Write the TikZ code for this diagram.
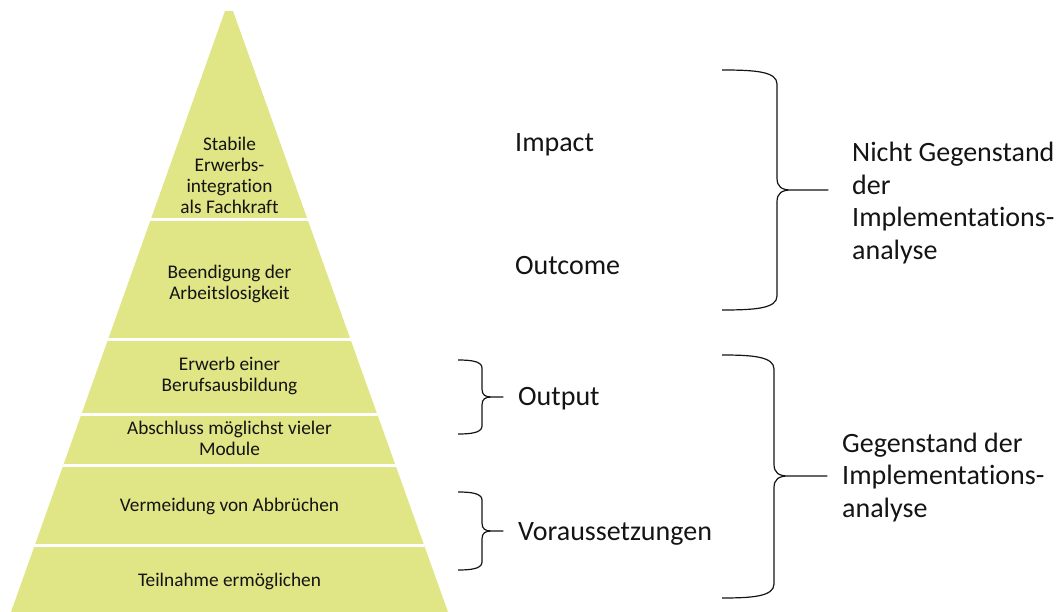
\documentclass[tikz,border=0pt]{standalone}
\usepackage{fontspec}
\setmainfont{Carlito}[Ligatures=CommonOff]
\definecolor{pyr}{RGB}{224,229,133}
\definecolor{ink}{RGB}{20,20,20}
\newcommand\curlybrace[8]{% #1 xe, #2 yt, #3 yb, #4 xv, #5 xt, #6 ym, #7 corner r, #8 tip r
  \draw[bracestyle] (#1,#2) .. controls ({#4-1.6*#7},#2) and (#4,{#2+0.1*#7}) .. (#4,{#2+#7})
    -- (#4,{#6-#8}) .. controls (#4,{#6-0.25*#8}) and ({#4+0.4*#8},#6) .. ({#4+1.2*#8},#6)
    -- (#5,#6) -- ({#4+1.2*#8},#6)
    .. controls ({#4+0.4*#8},#6) and (#4,{#6+0.25*#8}) .. (#4,{#6+#8})
    -- (#4,{#3-#7}) .. controls (#4,{#3-0.1*#7}) and ({#4-1.6*#7},#3) .. (#1,#3);}
\begin{document}
\begin{tikzpicture}[x=1pt,y=-1pt,
  bracestyle/.style={draw=ink,line width=1.2pt,line join=round},
  bandtext/.style={align=center,inner sep=0pt,text=ink,font=\fontsize{19.3}{21}\selectfont},
  lvl/.style={anchor=base west,inner sep=0pt,text=ink,font=\fontsize{28}{33}\selectfont},
  grp/.style={align=left,inner sep=0pt,text=ink,font=\fontsize{28}{32.7}\selectfont},
  divider/.style={draw=white,line width=2.4pt}]
\useasboundingbox (0,0) rectangle (1060,612);
% pyramid
\coordinate (apexL) at (225,11);
\coordinate (apexR) at (233,11);
\coordinate (baseR) at (448,612);
\coordinate (baseL) at (11,612);
\fill[pyr] (apexL) -- (apexR) -- (baseR) -- (baseL) -- cycle;
\begin{scope}
  \clip (apexL) -- (apexR) -- (baseR) -- (baseL) -- cycle;
  \foreach \yy in {219.5,339.5,414.5,465.5,545.5}
    \draw[divider] (0,\yy) -- (460,\yy);
\end{scope}
% band texts
\node[bandtext] (t1) at (229.5,175) {Stabile\\Erwerbs-\\integration\\als Fachkraft};
\node[bandtext] (t2) at (229.5,284) {Beendigung der\\Arbeitslosigkeit};
\node[bandtext] (t3) at (229.5,376) {Erwerb einer\\Berufsausbildung};
\node[bandtext] (t4) at (229.5,438.5) {Abschluss möglichst vieler\\Module};
\node[bandtext,anchor=base] (t5) at (229.5,511) {Vermeidung von Abbrüchen};
\node[bandtext,anchor=base] (t6) at (229.5,586) {Teilnahme ermöglichen};
% level labels
\node[lvl] (impact) at (515,152) {Impact};
\node[lvl] (outcome) at (515,275) {Outcome};
\node[lvl] (output) at (518,405) {Output};
\node[lvl] (vorauss) at (518,540) {Voraussetzungen};
% braces
\curlybrace{722}{70}{310}{777}{828}{190}{14}{12}
\curlybrace{722}{355}{598}{774}{827}{476}{14}{12}
\curlybrace{458}{360}{434}{482}{503}{397}{8}{8}
\curlybrace{458}{492}{570}{482}{503}{531}{8}{8}
% group labels
\node[grp,anchor=west] (nicht) at (852,203) {Nicht Gegenstand\\der\\Implementations-\\analyse};
\node[grp,anchor=west] (gegen) at (842,477.5) {Gegenstand der\\Implementations-\\analyse};
\end{tikzpicture}
\end{document}
